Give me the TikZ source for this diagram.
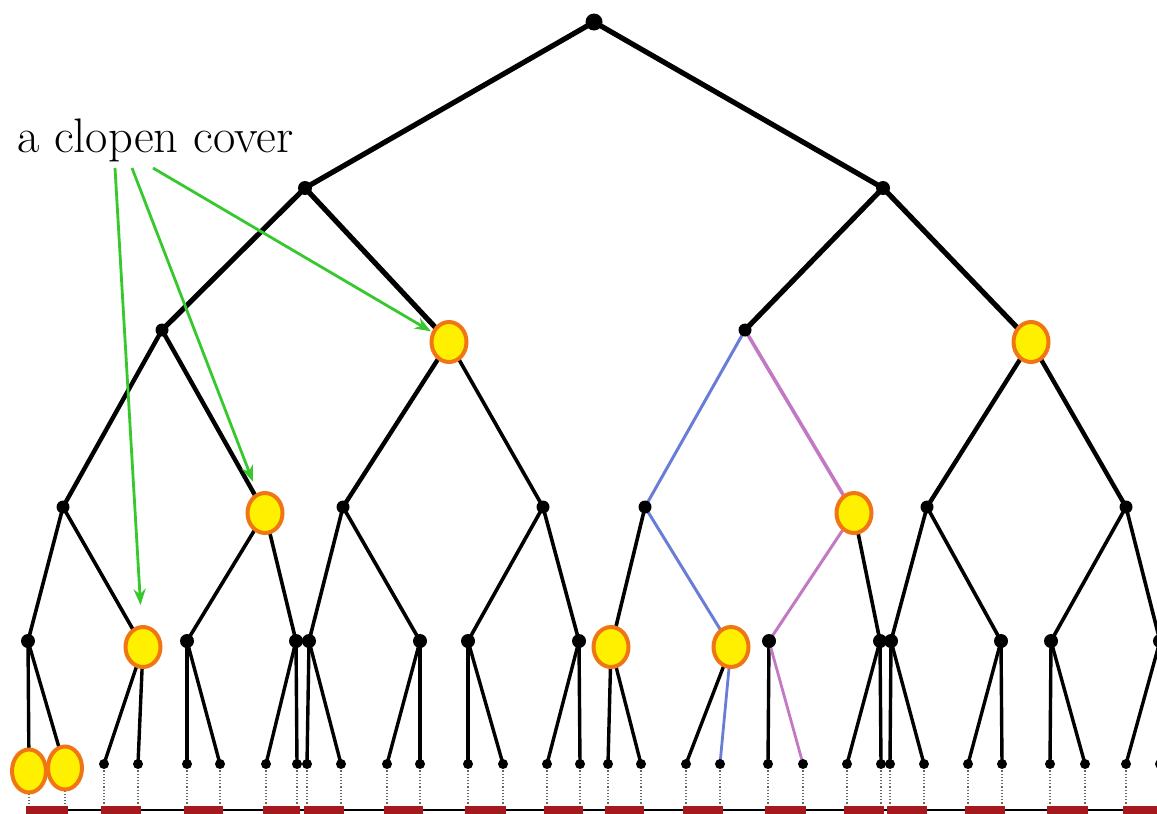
\documentclass[tikz,border=0pt]{standalone}
\usetikzlibrary{shapes.geometric,arrows.meta}
\definecolor{coverfill}{RGB}{255,240,0}
\definecolor{coverring}{RGB}{240,118,20}
\definecolor{arrowgreen}{RGB}{55,200,45}
\definecolor{pathblue}{RGB}{105,125,215}
\definecolor{pathpink}{RGB}{195,120,195}
\definecolor{barred}{RGB}{165,25,30}
\pgfdeclarelayer{bg}
\pgfsetlayers{bg,main}
\begin{document}
\begin{tikzpicture}[x=1pt,y=-1pt,
  bdot/.style={circle,fill=black,inner sep=0pt,minimum size=#1},
  leaf/.style={circle,fill=black,inner sep=0pt,minimum size=10pt},
  cover/.style={ellipse,draw=coverring,fill=coverfill,line width=4pt,inner sep=0pt,minimum width=35pt,minimum height=40pt},
  bigcover/.style={cover,minimum width=34pt,minimum height=43pt},
  lvA/.style={line width=5.2pt},
  lvB/.style={line width=4.4pt},
  lvC/.style={line width=3.6pt},
  lvD/.style={line width=3.4pt},
  garrow/.style={draw=arrowgreen,line width=2.8pt,-{Stealth[length=16pt,width=12pt]}},
  guide/.style={draw=black!60,dotted,line width=1.2pt}]
\useasboundingbox (0,0) rectangle (1157,814);
\clip (0,0) rectangle (1157,814);

% root and first two levels
\node[bdot=17pt] (r) at (594,22) {};
\node[bdot=14pt] (a) at (305,188) {};
\node[bdot=14pt] (b) at (883,188) {};
\node[bdot=13pt] (aa) at (162,330) {};
\node[cover] (ab) at (449,342) {};
\node[bdot=13pt] (ba) at (745,330) {};
\node[cover] (bb) at (1031,342) {};

% level 3
\node[bdot=13pt] (aaa) at (63,507) {};
\node[cover] (aab) at (265,513) {};
\node[bdot=13pt] (aba) at (343,507) {};
\node[bdot=13pt] (abb) at (543,507) {};
\node[bdot=13pt] (baa) at (645,507) {};
\node[cover] (bab) at (854,513) {};
\node[bdot=13pt] (bba) at (927,507) {};
\node[bdot=13pt] (bbb) at (1126,507) {};

% level 4
\node[bdot=14pt] (aaaa) at (28,641) {};
\node[cover] (aaab) at (143,647) {};
\node[bdot=14pt] (aaba) at (187,641) {};
\node[bdot=14pt] (aabb) at (296,641) {};
\node[bdot=14pt] (abaa) at (309,641) {};
\node[bdot=14pt] (abab) at (420,641) {};
\node[bdot=14pt] (abba) at (468,641) {};
\node[bdot=14pt] (abbb) at (579,641) {};
\node[cover] (baaa) at (611,647) {};
\node[cover] (baab) at (731,647) {};
\node[bdot=14pt] (baba) at (769,641) {};
\node[bdot=14pt] (babb) at (880,641) {};
\node[bdot=14pt] (bbaa) at (891,641) {};
\node[bdot=14pt] (bbab) at (1001,641) {};
\node[bdot=14pt] (bbba) at (1051,641) {};
\node[bdot=14pt] (bbbb) at (1160,641) {};

% level 5
\node[bigcover] (aaaa-l) at (29,771) {};
\node[bigcover] (aaaa-r) at (65,768) {};
\foreach \p/\l/\r in {aaab/104/138, aaba/187/220, aabb/266/297, abaa/307/341,
    abab/387/420, abba/468/503, abbb/547/580, baaa/608/641, baab/686/720,
    baba/768/803, babb/847/881, bbaa/890/924, bbab/968/1002, bbba/1050/1085,
    bbbb/1126/1160}{
  \node[leaf] (\p-l) at (\l,764) {};
  \node[leaf] (\p-r) at (\r,764) {};
}

\begin{pgfonlayer}{bg}
  % upper edges
  \draw[lvA] (r.center) -- (a.center) (r.center) -- (b.center);
  \draw[lvA] (a.center) -- (aa.center) (a.center) -- (ab.center)
             (b.center) -- (ba.center) (b.center) -- (bb.center);
  \draw[lvB] (aa.center) -- (aaa.center) (aa.center) -- (aab.center)
             (ab.center) -- (aba.center) (bb.center) -- (bba.center)
             (bb.center) -- (bbb.center);
  \draw[lvC] (ab.center) -- (abb.center);
  \draw[pathblue,line width=3pt] (ba.center) -- (baa.center);
  \draw[pathpink,line width=3.6pt] (ba.center) -- (bab.center);
  % edges into level 4
  \foreach \p/\c in {aaa/aaaa, aaa/aaab, aab/aaba, aab/aabb, aba/abaa, aba/abab,
      abb/abba, abb/abbb, baa/baaa, bab/babb, bba/bbaa, bba/bbab, bbb/bbba, bbb/bbbb}
    \draw[lvC] (\p.center) -- (\c.center);
  \draw[pathblue,line width=3pt] (baa.center) -- (baab.center);
  \draw[pathpink,line width=3pt] (bab.center) -- (baba.center);
  % edges into level 5
  \foreach \p in {aaaa, aaab, aaba, aabb, abaa, abab, abba, abbb, baaa, baab,
      baba, babb, bbaa, bbab, bbba, bbbb}
    \draw[lvD] (\p.center) -- (\p-l.center);
  \foreach \p in {aaaa, aaab, aaba, aabb, abaa, abab, abba, abbb, baaa,
      babb, bbaa, bbab, bbba, bbbb}
    \draw[lvD] (\p.center) -- (\p-r.center);
  \draw[pathblue,line width=2.8pt] (baab.center) -- (baab-r.center);
  \draw[pathpink,line width=2.8pt] (baba.center) -- (baba-r.center);
  % interval line, drop lines and intervals
  \draw[line width=1.4pt] (26,810) -- (1157,810);
  \foreach \p/\l/\r in {aaaa/29/65, aaab/104/138, aaba/187/220, aabb/266/297,
      abaa/307/341, abab/387/420, abba/468/503, abbb/547/580, baaa/608/641,
      baab/686/720, baba/768/803, babb/847/881, bbaa/890/924, bbab/968/1002,
      bbba/1050/1085, bbbb/1126/1160}{
    \draw[guide] (\p-l.center) -- (\l,806);
    \draw[guide] (\p-r.center) -- (\r,806);
    \fill[barred] (\l-3,805.5) rectangle (\r+3,813.5);
  }
\end{pgfonlayer}

% label and its arrows
\node[anchor=base west,inner sep=0pt,font=\fontsize{48.5}{54}\selectfont] (lbl) at (17,152) {a clopen cover};
\coordinate (s1) at (115,168);
\coordinate (s2) at (132,168);
\coordinate (s3) at (153,168);
\draw[garrow,shorten >=20pt] (s1) -- (aaab);
\draw[garrow,shorten >=12pt] (s2) -- (aab);
\draw[garrow,shorten >=1pt] (s3) -- (ab);
\end{tikzpicture}
\end{document}
